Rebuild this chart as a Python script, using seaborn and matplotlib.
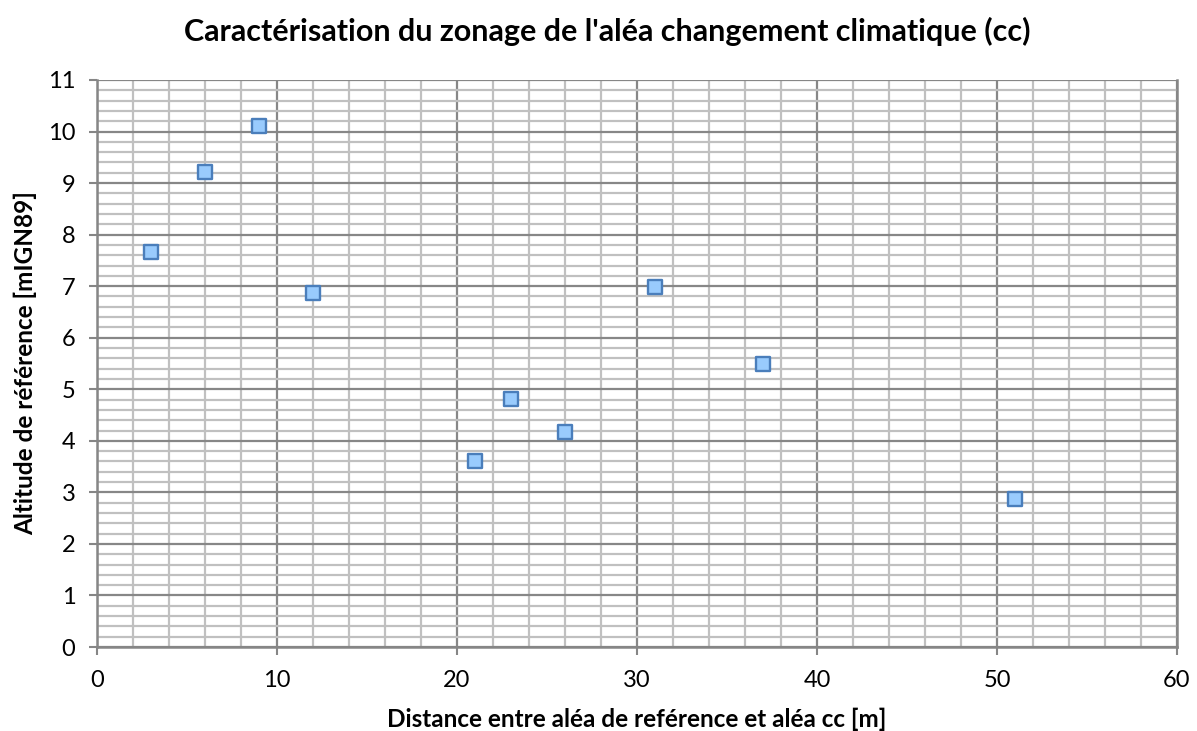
import matplotlib
matplotlib.use("Agg")
import matplotlib.pyplot as plt
from matplotlib.ticker import MultipleLocator
import seaborn as sns
import pandas as pd

# Distance between the reference hazard and the climate-change hazard (m)
distance = [3, 6, 9, 12, 21, 23, 26, 31, 37, 51]
# Reference altitude (m IGN89)
altitude = [7.66, 9.22, 10.11, 6.86, 3.61, 4.81, 4.17, 6.98, 5.50, 2.87]

title = "Caractérisation du zonage de l'aléa changement climatique (cc)"
xlabel = "Distance entre aléa de reférence et aléa cc [m]"
ylabel = "Altitude de référence [mIGN89]"

df = pd.DataFrame({"distance": distance, "altitude": altitude})

sns.set_theme(style="white")
plt.rcParams["font.family"] = ["Lato", "DejaVu Sans"]
plt.rcParams["text.color"] = "black"
plt.rcParams["axes.labelcolor"] = "black"

fig = plt.figure(figsize=(11.97, 7.31), dpi=100)
ax = fig.add_axes([97 / 1197, 1 - 647 / 731, 1080 / 1197, 567 / 731])

sns.scatterplot(data=df, x="distance", y="altitude", ax=ax, marker="s",
                s=95, color="#99cbfd", edgecolor="#4a7ebb", linewidth=1.7,
                zorder=5, legend=False)

ax.set_xlim(0, 60)
ax.set_ylim(0, 11)
ax.xaxis.set_major_locator(MultipleLocator(10))
ax.xaxis.set_minor_locator(MultipleLocator(2))
ax.yaxis.set_major_locator(MultipleLocator(1))
ax.yaxis.set_minor_locator(MultipleLocator(0.2))

ax.grid(which="minor", color="#c0c0c0", linewidth=1.6, zorder=0)
ax.grid(which="major", color="#878787", linewidth=1.6, zorder=1)
ax.set_axisbelow(True)

for side in ["left", "bottom", "right"]:
    ax.spines[side].set_visible(True)
    ax.spines[side].set_color("#868686")
    ax.spines[side].set_linewidth(1.8)
ax.spines["top"].set_visible(False)

ax.tick_params(axis="both", which="major", length=5.5, width=1.5, color="#868686",
               labelsize=17, labelcolor="black", direction="out",
               left=True, bottom=True)
ax.tick_params(axis="x", which="major", pad=11)
ax.tick_params(axis="y", which="major", pad=10)
ax.tick_params(axis="both", which="minor", length=0)

ax.set_title(title, fontsize=22, fontweight="bold", pad=28, x=0.472, color="black")
ax.set_xlabel(xlabel, fontsize=17.5, fontweight="bold", labelpad=12, color="black")
ax.set_ylabel(ylabel, fontsize=17.5, fontweight="bold", labelpad=8, color="black")

fig.savefig("out.png", dpi=100)
